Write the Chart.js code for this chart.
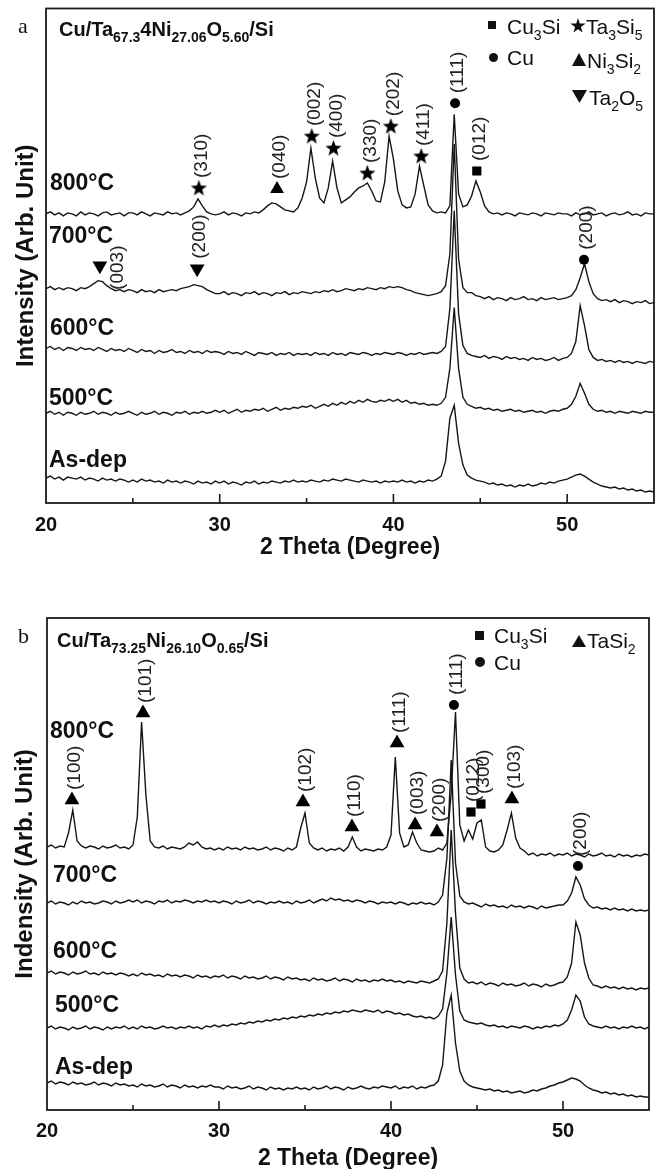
<!DOCTYPE html>
<html><head><meta charset="utf-8">
<script src="https://cdn.jsdelivr.net/npm/chart.js@4.4.0/dist/chart.umd.min.js"></script>
<style>
html,body{margin:0;padding:0;background:#fff;}
body{width:664px;height:1169px;position:relative;overflow:hidden;font-family:"Liberation Sans",Arial,sans-serif;color:#111;}
.wrap{position:absolute;left:0;width:664px;}
.t{position:absolute;line-height:1;white-space:nowrap;}
.lbl{font-weight:bold;font-size:23px;}
.ttl{font-weight:bold;font-size:20px;}
.ttl sub{font-size:14px;vertical-align:-6px;line-height:0;}
.leg{font-size:21px;}
.leg sub{font-size:14px;vertical-align:-6px;line-height:0;}
.ser{font-family:"Liberation Serif","Times New Roman",serif;font-size:22px;}
.mk{position:absolute;background:#111;}
.sq{}
.ci{border-radius:50%;}
.tu{clip-path:polygon(50% 0,100% 100%,0 100%);}
.td{clip-path:polygon(0 0,100% 0,50% 100%);}
.st{clip-path:polygon(50% 0%,61% 35%,98% 35%,68% 57%,79% 91%,50% 70%,21% 91%,32% 57%,2% 35%,39% 35%);}
</style></head>
<body>
<div class="wrap" style="top:0;height:575px;"><canvas id="ca" width="664" height="575" style="width:664px;height:575px;"></canvas></div>
<div class="wrap" style="top:590px;height:590px;"><canvas id="cb" width="664" height="590" style="width:664px;height:590px;"></canvas></div>

<!-- panel a texts -->
<div class="t ser" style="left:18px;top:14.6px;">a</div>
<div class="t ttl" style="left:59px;top:18.7px;">Cu/Ta<sub>67.3</sub>4Ni<sub>27.06</sub>O<sub>5.60</sub>/Si</div>
<div class="mk sq" style="left:488px;top:21px;width:8px;height:8px;"></div>
<div class="t leg" style="left:507px;top:15.7px;">Cu<sub>3</sub>Si</div>
<div class="mk st" style="left:570px;top:18px;width:16px;height:16px;"></div>
<div class="t leg" style="left:586px;top:15.7px;">Ta<sub>3</sub>Si<sub>5</sub></div>
<div class="mk ci" style="left:489px;top:53px;width:9px;height:9px;"></div>
<div class="t leg" style="left:507px;top:46.7px;">Cu</div>
<div class="mk tu" style="left:572px;top:53px;width:14px;height:13px;"></div>
<div class="t leg" style="left:587px;top:49.7px;">Ni<sub>3</sub>Si<sub>2</sub></div>
<div class="mk td" style="left:572px;top:90px;width:15px;height:13px;"></div>
<div class="t leg" style="left:589px;top:86.7px;">Ta<sub>2</sub>O<sub>5</sub></div>
<div class="t lbl" style="left:50px;top:170.8px;">800°C</div>
<div class="t lbl" style="left:49px;top:223.8px;">700°C</div>
<div class="t lbl" style="left:50px;top:315.8px;">600°C</div>
<div class="t lbl" style="left:49px;top:385.8px;">500°C</div>
<div class="t lbl" style="left:49px;top:448px;">As-dep</div>

<!-- panel b texts -->
<div class="t ser" style="left:18px;top:624.6px;">b</div>
<div class="t ttl" style="left:57px;top:630.2px;">Cu/Ta<sub>73.25</sub>Ni<sub>26.10</sub>O<sub>0.65</sub>/Si</div>
<div class="mk sq" style="left:475px;top:631px;width:9px;height:9px;"></div>
<div class="t leg" style="left:494px;top:624.7px;">Cu<sub>3</sub>Si</div>
<div class="mk tu" style="left:572px;top:635px;width:14px;height:12px;"></div>
<div class="t leg" style="left:587px;top:629.7px;">TaSi<sub>2</sub></div>
<div class="mk ci" style="left:475px;top:657px;width:10px;height:10px;"></div>
<div class="t leg" style="left:494px;top:651.7px;">Cu</div>
<div class="t lbl" style="left:50px;top:718.8px;">800°C</div>
<div class="t lbl" style="left:53px;top:862.8px;">700°C</div>
<div class="t lbl" style="left:53px;top:938.8px;">600°C</div>
<div class="t lbl" style="left:55px;top:992.8px;">500°C</div>
<div class="t lbl" style="left:55px;top:1054.8px;">As-dep</div>

<script>
// ---------- DATA ----------
const twoTheta = [
20,20.25,20.5,20.75,21,21.25,21.5,21.75,22,22.25,22.5,22.75,23,23.25,23.5,23.75,24,24.25,24.5,24.75,
25,25.25,25.5,25.75,26,26.25,26.5,26.75,27,27.25,27.5,27.75,28,28.25,28.5,28.75,29,29.25,29.5,29.75,
30,30.25,30.5,30.75,31,31.25,31.5,31.75,32,32.25,32.5,32.75,33,33.25,33.5,33.75,34,34.25,34.5,34.75,
35,35.25,35.5,35.75,36,36.25,36.5,36.75,37,37.25,37.5,37.75,38,38.25,38.5,38.75,39,39.25,39.5,39.75,
40,40.25,40.5,40.75,41,41.25,41.5,41.75,42,42.25,42.5,42.75,43,43.25,43.5,43.75,44,44.25,44.5,44.75,
45,45.25,45.5,45.75,46,46.25,46.5,46.75,47,47.25,47.5,47.75,48,48.25,48.5,48.75,49,49.25,49.5,49.75,
50,50.25,50.5,50.75,51,51.25,51.5,51.75,52,52.25,52.5,52.75,53,53.25,53.5,53.75,54,54.25,54.5,54.75,
55];
const xTickLabels = [20, 30, 40, 50];

// Panel a (Cu/Ta67.34Ni27.06O5.60/Si)
const a800 = [
290,292,289,291,288,291,290,288,292,289,291,290,288,291,292,289,290,291,288,291,
291,289,292,290,288,291,290,289,292,290,291,289,291,293,297,305,298,292,290,289,
290,292,289,291,290,288,291,290,292,291,294,298,301,300,297,294,293,292,296,306,
322,356,326,306,301,316,343,316,301,304,307,312,316,318,321,313,303,302,322,368,
345,313,299,296,297,310,338,318,299,293,291,292,291,298,390,310,297,299,308,323,
312,298,292,290,291,289,291,290,288,291,290,289,291,290,288,291,290,289,291,290,
290,288,291,289,290,292,289,290,291,288,290,291,289,290,292,289,290,288,291,290,
290];
const a700 = [
215,217,214,216,214,216,215,213,216,215,217,220,223,222,218,215,213,214,212,214,
213,211,214,212,213,211,214,212,213,214,213,215,216,217,219,218,217,214,212,210,
210,212,209,211,210,208,211,210,212,209,211,210,208,211,210,212,209,211,210,212,
211,210,212,211,213,212,214,212,213,215,214,213,215,214,216,215,214,216,215,217,
216,217,216,214,213,211,210,209,208,209,210,212,218,250,360,245,216,211,211,208,
207,205,207,204,206,205,203,206,204,205,207,204,205,203,206,204,205,206,204,205,
206,208,214,226,240,222,210,205,203,204,202,204,201,203,202,200,202,201,203,200,
201];
const a600 = [
155,157,154,156,153,156,155,153,156,154,155,153,156,154,152,155,153,154,152,155,
153,151,154,152,153,150,153,151,152,154,151,152,150,153,151,152,150,153,151,152,
151,149,152,150,151,149,152,150,148,151,150,149,151,148,150,149,151,148,150,149,
150,148,151,149,150,148,151,149,150,148,151,150,149,151,150,148,150,149,151,150,
149,151,150,148,150,149,151,149,150,151,150,152,157,195,293,190,158,150,148,147,
146,148,145,147,146,144,147,145,146,144,145,143,146,144,145,143,144,146,143,145,
146,150,162,198,178,154,146,143,144,142,143,141,143,141,142,140,142,141,140,142,
141];
const a500 = [
90,92,89,91,88,91,90,88,91,89,90,92,89,91,90,88,91,89,90,92,
90,88,91,89,90,92,89,91,90,88,91,90,92,89,91,90,92,90,91,93,
91,93,90,92,94,91,93,92,94,93,95,92,94,96,93,95,94,96,95,97,
96,98,95,97,99,97,100,98,101,99,102,100,103,101,104,102,101,103,102,104,
102,104,101,103,100,101,99,100,98,99,98,100,106,135,196,135,106,99,97,95,
96,94,95,93,94,92,93,94,92,93,91,92,93,91,92,90,92,93,92,94,
95,99,107,120,110,99,94,92,93,91,92,90,92,91,90,92,91,90,92,91,
91];
const aAsDep = [
25,27,24,26,23,26,25,24,26,23,25,24,22,25,23,24,22,24,23,21,
23,21,24,22,23,21,22,20,23,21,22,20,22,21,19,22,20,21,19,22,
20,22,19,21,20,18,21,20,22,19,21,20,22,21,20,22,21,23,21,22,
21,23,22,21,23,22,24,23,22,24,23,22,21,23,22,21,22,20,22,21,
22,21,23,21,22,20,22,21,23,22,24,27,42,85,98,60,38,28,25,23,
22,21,19,20,18,19,17,18,16,18,17,19,17,18,20,19,21,20,22,23,
24,26,28,29,27,24,21,19,17,16,15,16,14,15,13,14,12,13,11,12,
11];
// phase markers: [2theta, intensity, (hkl)]
const aTa3Si5 = [[28.8,316,'(310)'],[35.3,368,'(002)'],[36.55,356,'(400)'],[38.5,331,'(330)'],[39.85,378,'(202)'],[41.6,348,'(411)']];
const aNi3Si2 = [[33.3,315,'(040)']];
const aCu     = [[43.55,401,'(111)'],[50.97,244,'(200)']];
const aCu3Si  = [[44.8,333,'(012)']];
const aTa2O5  = [[23.1,238,'(003)'],[28.7,235,'(200)']];

// Panel b (Cu/Ta73.25Ni26.10O0.65/Si)
const b800 = [
266,268,265,267,266,280,303,272,267,265,267,266,264,267,265,266,268,265,266,264,
268,296,391,318,272,266,265,267,264,266,265,264,266,270,268,271,266,264,265,263,
265,263,266,264,265,263,266,264,265,263,264,266,263,265,264,262,265,263,266,285,
300,270,265,263,265,262,264,263,265,262,266,276,266,262,264,263,262,264,263,266,
278,356,280,266,268,281,270,263,262,261,262,265,263,270,320,401,288,272,283,274,
290,293,266,262,261,263,268,283,300,275,265,262,258,260,257,259,258,260,257,259,
258,260,257,259,258,256,259,257,258,260,257,258,256,259,257,258,256,258,257,259,
258];
const b700 = [
210,212,209,211,210,208,211,209,212,210,211,209,210,212,211,209,212,210,211,213,
211,213,210,212,211,209,212,211,213,210,212,211,213,212,210,212,211,213,211,212,
210,212,211,209,212,210,211,213,210,212,211,209,211,210,212,210,211,209,212,210,
211,213,210,212,214,212,215,213,214,212,213,211,213,212,210,212,211,209,211,210,
211,209,211,210,208,210,209,211,209,210,208,211,218,255,353,250,217,211,209,210,
208,206,209,207,208,206,207,205,208,206,207,205,207,206,204,207,205,206,207,208,
208,212,220,236,228,214,208,205,206,204,205,203,205,203,204,202,204,202,203,202,
203];
const b600 = [
140,142,139,141,140,138,141,139,140,142,139,140,138,141,139,140,138,140,139,137,
139,137,140,138,139,137,138,136,139,137,138,136,138,137,135,138,136,137,135,137,
136,138,135,137,136,134,137,135,136,134,135,137,134,136,135,133,136,134,135,133,
134,132,135,133,134,132,133,135,132,134,133,131,134,132,133,131,133,132,134,132,
133,131,132,130,132,131,130,132,131,130,132,134,142,190,283,200,145,134,130,131,
129,131,128,130,129,127,130,128,129,127,128,130,127,129,128,126,129,127,128,130,
131,136,150,191,178,150,135,128,127,125,127,125,126,124,126,124,125,123,125,124,
125];
const b500 = [
85,87,84,86,85,83,86,84,85,87,84,86,85,83,86,84,86,85,87,84,
86,84,87,85,86,84,85,87,85,86,84,86,85,87,85,86,84,87,86,88,
86,88,87,89,88,90,89,91,90,92,91,93,92,94,93,95,94,96,95,97,
96,98,97,99,98,100,99,101,100,102,101,103,102,101,103,102,101,103,100,102,
101,99,100,98,99,97,96,97,95,96,94,97,104,140,196,138,102,93,91,90,
89,90,88,87,88,86,87,85,87,86,85,87,86,84,86,85,87,86,88,87,
89,93,103,118,112,96,89,87,86,85,87,85,86,84,86,85,87,85,86,84,
86];
const bAsDep = [
30,32,29,31,30,28,31,29,30,28,29,31,28,30,29,27,30,28,29,27,
28,26,29,27,28,26,27,29,26,28,27,25,28,26,27,25,27,26,28,26,
26,24,27,25,26,24,25,27,24,26,25,23,26,24,25,23,25,24,26,24,
25,23,26,24,25,27,24,26,25,23,26,24,25,27,25,24,26,25,27,26,
25,27,24,26,25,27,24,26,25,27,28,32,48,100,118,70,42,32,28,26,
25,24,23,24,22,23,21,22,20,21,22,20,21,23,22,24,25,27,28,30,
31,33,35,34,32,28,25,23,22,20,21,19,20,18,19,17,18,16,17,16,
16];
const bTaSi2 = [[21.45,313,'(100)'],[25.58,400,'(101)'],[34.88,311,'(102)'],[37.73,286,'(110)'],[40.35,370,'(111)'],[41.4,288,'(003)'],[42.67,281,'(200)'],[47.03,314,'(103)']];
const bCu    = [[43.66,408,'(111)'],[50.87,247,'(200)']];
const bCu3Si = [[44.65,301,'(012)'],[45.23,309,'(300)']];

// ---------- RENDERING ----------
const FONT = '"Liberation Sans", Arial, sans-serif';
Chart.defaults.font.family = FONT;
Chart.defaults.color = '#111';

function starImage(size){
  const c = document.createElement('canvas'); c.width = size; c.height = size;
  const g = c.getContext('2d'); g.fillStyle = '#000'; g.beginPath();
  const R = size/2, r = R*0.42;
  for (let k=0;k<10;k++){ const ang = -Math.PI/2 + k*Math.PI/5; const rr = (k%2)? r : R; g.lineTo(R+rr*Math.cos(ang), R*1.06+rr*Math.sin(ang)); }
  g.closePath(); g.fill(); return c;
}
const STAR = starImage(17);

function curve(vals){
  return { data: twoTheta.map((x,i)=>({x:x, y:vals[i]})), borderColor:'#161616', borderWidth:1.4,
           pointRadius:0, fill:false, tension:0, order:2 };
}
function markers(list, style, extra){
  return Object.assign({ data: list.map(m=>({x:m[0], y:m[1]})), hkl: list.map(m=>m[2]),
    showLine:false, pointStyle:style, backgroundColor:'#000', borderColor:'#000', borderWidth:0,
    pointRadius:5, order:1 }, extra||{});
}

const hklPlugin = { id:'hkl', afterDatasetsDraw(chart){
  const ctx = chart.ctx;
  chart.data.datasets.forEach((ds,i)=>{
    if (!ds.hkl) return;
    const meta = chart.getDatasetMeta(i);
    meta.data.forEach((pt,j)=>{
      const place = ds.hklPlace ? ds.hklPlace[j] : 'above';
      ctx.save(); ctx.fillStyle = '#222'; ctx.font = '19px ' + FONT; ctx.textBaseline = 'middle';
      if (place === 'right') { ctx.translate(pt.x+18, pt.y+2); ctx.rotate(-Math.PI/2); ctx.textAlign='center'; }
      else { ctx.translate(pt.x+3, pt.y-10); ctx.rotate(-Math.PI/2); ctx.textAlign='left'; }
      ctx.fillText(ds.hkl[j], 0, 0); ctx.restore();
    });
  });
}};
const framePlugin = { id:'frame', afterDraw(chart){
  const ctx = chart.ctx, a = chart.chartArea, xs = chart.scales.x;
  ctx.save(); ctx.strokeStyle = '#1a1a1a'; ctx.lineWidth = 1.8;
  ctx.strokeRect(a.left, a.top, a.right-a.left, a.bottom-a.top);
  ctx.lineWidth = 1.6;
  xs.ticks.forEach(t=>{
    if (t.value <= xs.min || t.value >= xs.max) return;
    const px = xs.getPixelForValue(t.value);
    const len = (xTickLabels.indexOf(t.value) >= 0) ? 9 : 5;
    ctx.beginPath(); ctx.moveTo(px, a.bottom); ctx.lineTo(px, a.bottom-len); ctx.stroke();
  });
  ctx.restore();
}};

function makeChart(id, datasets, cfg){
  return new Chart(document.getElementById(id), {
    type:'line',
    data:{ datasets: datasets },
    options:{
      responsive:false, animation:false, events:[], devicePixelRatio:1,
      layout:{ padding:{ top:cfg.padTop, right:cfg.padRight, left:0, bottom:0 } },
      plugins:{ legend:{display:false}, tooltip:{enabled:false} },
      scales:{
        x:{ type:'linear', min:20, max:55, position:'bottom',
            ticks:{ stepSize:5, autoSkip:false, maxRotation:0, padding:cfg.tickPad, color:'#111',
                    font:{ size:20, weight:'bold' },
                    callback:(v)=> xTickLabels.indexOf(v) >= 0 ? String(v) : '' },
            grid:{ display:false, drawTicks:false }, border:{ display:false },
            title:{ display:true, text:'2 Theta (Degree)', color:'#111', font:{ size:23, weight:'bold' },
                    padding:{ top:0, bottom:cfg.titlePadB } },
            afterFit:(s)=>{ s.height = cfg.xAxisH; } },
        y:{ type:'linear', min:cfg.yMin, max:cfg.yMax,
            ticks:{ display:false }, grid:{ display:false, drawTicks:false }, border:{ display:false },
            title:{ display:true, text:cfg.yTitle, color:'#111', font:{ size:24, weight:'bold' },
                    padding:{ top:cfg.yTitlePad, bottom:0 } },
            afterFit:(s)=>{ s.width = cfg.yAxisW; } }
      }
    },
    plugins:[hklPlugin, framePlugin]
  });
}

makeChart('ca', [
  curve(a800), curve(a700), curve(a600), curve(a500), curve(aAsDep),
  markers(aTa3Si5, STAR),
  markers(aNi3Si2, 'triangle', { pointRadius:8 }),
  markers(aCu, 'circle', { pointRadius:5 }),
  markers(aCu3Si, 'rect', { pointRadius:6.5 }),
  markers(aTa2O5, 'triangle', { pointRadius:8.5, pointRotation:180, hklPlace:['right','above'] })
], { padTop:7, padRight:10, tickPad:10, titlePadB:14, xAxisH:72, yMin:0, yMax:496,
     yTitle:'Intensity (Arb. Unit)', yTitlePad:11.6, yAxisW:46 });

makeChart('cb', [
  curve(b800), curve(b700), curve(b600), curve(b500), curve(bAsDep),
  markers(bTaSi2, 'triangle', { pointRadius:8.5 }),
  markers(bCu, 'circle', { pointRadius:5 }),
  markers(bCu3Si, 'rect', { pointRadius:6.5 })
], { padTop:28, padRight:15, tickPad:9, titlePadB:8, xAxisH:70, yMin:3, yMax:495,
     yTitle:'Indensity (Arb. Unit)', yTitlePad:10.6, yAxisW:47 });
</script>
</body></html>
